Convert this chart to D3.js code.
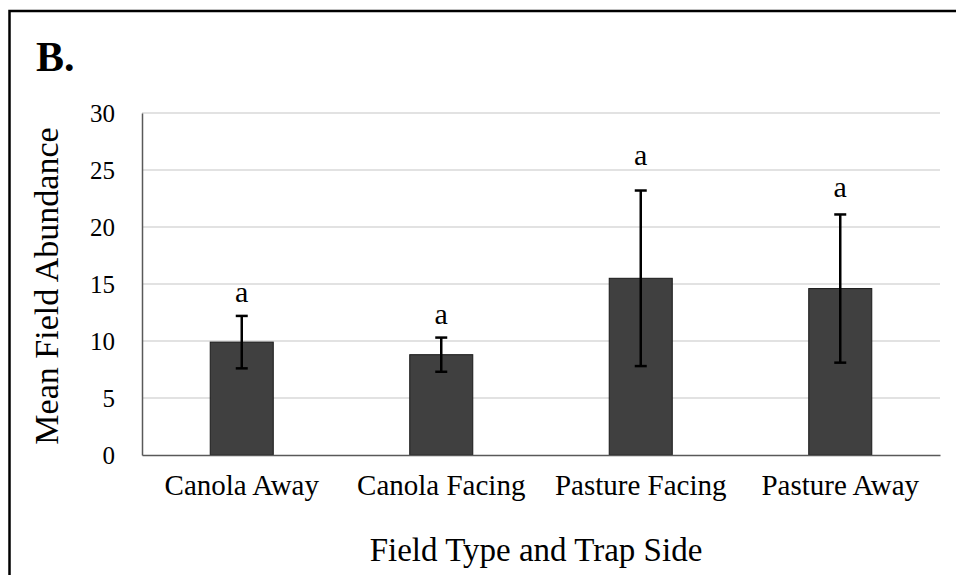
<!DOCTYPE html>
<html>
<head>
<meta charset="utf-8">
<script src="https://cdn.jsdelivr.net/npm/d3@7"></script>
<style>
  html, body { margin: 0; padding: 0; background: #fff; }
  svg { display: block; font-family: "Liberation Serif", "Times New Roman", serif; }
</style>
</head>
<body>
<svg id="chart" width="956" height="575"></svg>
<script>
// ---- data ----
const categories = ["Canola Away", "Canola Facing", "Pasture Facing", "Pasture Away"];
const means = [9.9, 8.8, 15.5, 14.6];
const errors = [2.3, 1.5, 7.7, 6.5];
const letters = ["a", "a", "a", "a"];
const letterY = [13.4, 11.5, 25.4, 22.6];
const yTicks = [0, 5, 10, 15, 20, 25, 30];
const panelLabel = "B.";
const yTitle = "Mean Field Abundance";
const xTitle = "Field Type and Trap Side";

// ---- layout ----
const svg = d3.select("#chart");
const plot = { left: 142, right: 940, top: 113, bottom: 455 };

const x = d3.scaleBand().domain(categories).range([plot.left, plot.right]).paddingInner(0.684).paddingOuter(0.342);
const y = d3.scaleLinear().domain([0, 30]).range([plot.bottom, plot.top]);

// outer frame
svg.append("rect")
  .attr("x", 9.5).attr("y", 11).attr("width", 1000).attr("height", 700)
  .attr("fill", "none").attr("stroke", "#000").attr("stroke-width", 2.5);

// panel label
svg.append("text").attr("x", 36).attr("y", 71)
  .attr("font-size", 42).attr("font-weight", "bold").attr("fill", "#000")
  .text(panelLabel);

// gridlines
svg.append("g")
  .selectAll("line").data(yTicks.filter(d => d > 0)).join("line")
  .attr("x1", plot.left).attr("x2", plot.right)
  .attr("y1", d => y(d)).attr("y2", d => y(d))
  .attr("stroke", "#d9d9d9").attr("stroke-width", 1.5);

// y axis
const yAxis = svg.append("g").attr("transform", `translate(${plot.left},0)`)
  .call(d3.axisLeft(y).tickValues(yTicks).tickSize(0).tickPadding(27).tickFormat(d3.format("d")));
yAxis.select(".domain").attr("stroke", "#595959").attr("stroke-width", 1.5);
yAxis.selectAll("text").attr("font-size", 25).attr("fill", "#000")
  .attr("font-family", "Liberation Serif, Times New Roman, serif");

// bars
svg.append("g").selectAll("rect").data(categories).join("rect")
  .attr("x", d => x(d)).attr("width", x.bandwidth())
  .attr("y", (d, i) => y(means[i])).attr("height", (d, i) => y(0) - y(means[i]))
  .attr("fill", "#404040").attr("stroke", "#1a1a1a").attr("stroke-width", 1);

// x axis
const xAxis = svg.append("g").attr("transform", `translate(0,${plot.bottom})`)
  .call(d3.axisBottom(x).tickSize(0).tickPadding(19));
xAxis.select(".domain").attr("stroke", "#595959").attr("stroke-width", 1.5);
xAxis.selectAll("text").attr("font-size", 29).attr("fill", "#000")
  .attr("font-family", "Liberation Serif, Times New Roman, serif");

// error bars
const eb = svg.append("g").attr("stroke", "#000").attr("stroke-width", 2.5);
categories.forEach((c, i) => {
  const cx = x(c) + x.bandwidth() / 2;
  const hi = y(means[i] + errors[i]), lo = y(means[i] - errors[i]);
  eb.append("line").attr("x1", cx).attr("x2", cx).attr("y1", hi).attr("y2", lo);
  eb.append("line").attr("x1", cx - 6).attr("x2", cx + 6).attr("y1", hi).attr("y2", hi);
  eb.append("line").attr("x1", cx - 6).attr("x2", cx + 6).attr("y1", lo).attr("y2", lo);
});

// letters
svg.append("g").selectAll("text").data(categories).join("text")
  .attr("x", d => x(d) + x.bandwidth() / 2)
  .attr("y", (d, i) => y(letterY[i]))
  .attr("text-anchor", "middle").attr("font-size", 30).attr("fill", "#000")
  .text((d, i) => letters[i]);

// axis titles
svg.append("text")
  .attr("transform", `translate(58,286) rotate(-90)`)
  .attr("text-anchor", "middle").attr("font-size", 34).attr("fill", "#000")
  .text(yTitle);

svg.append("text")
  .attr("x", 536).attr("y", 561)
  .attr("text-anchor", "middle").attr("font-size", 33).attr("fill", "#000")
  .text(xTitle);
</script>
</body>
</html>
